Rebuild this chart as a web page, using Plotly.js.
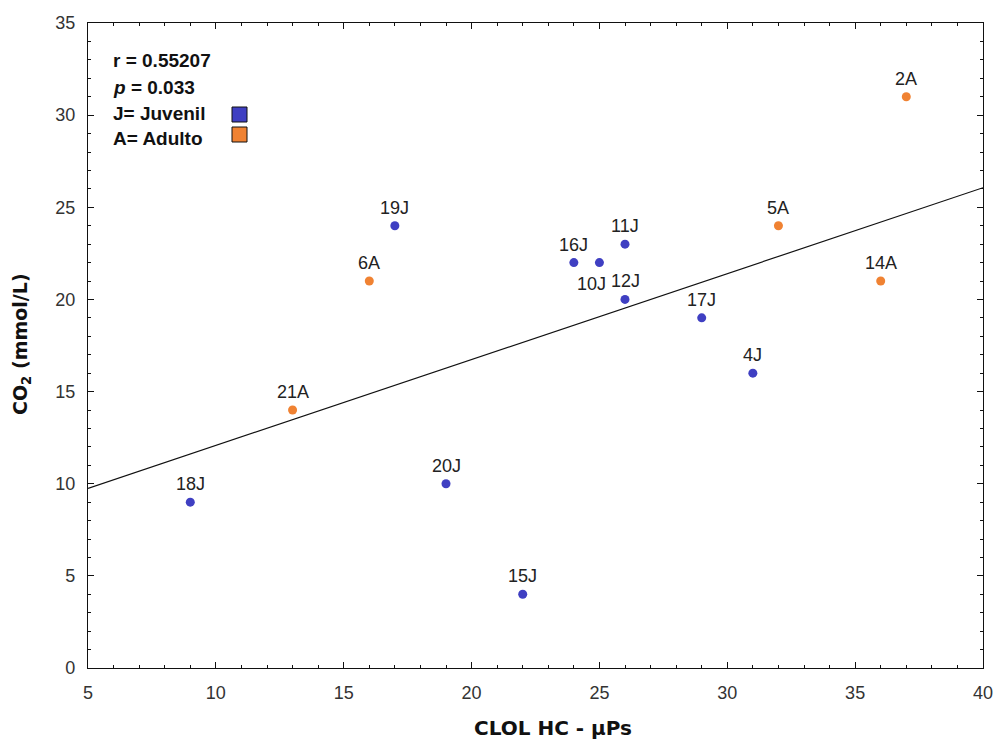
<!DOCTYPE html>
<html>
<head>
<meta charset="utf-8">
<script src="https://cdn.plot.ly/plotly-3.0.1.min.js"></script>
<style>html,body{margin:0;padding:0;background:#fff;}#chart{width:998px;height:742px;}</style>
</head>
<body>
<div id="chart"></div>
<script>
// Data
const juvLabels = ["18J","20J","15J","19J","16J","10J","11J","12J","17J","4J"];
const juvX = [9, 19, 22, 17, 24, 25, 26, 26, 29, 31];
const juvY = [9, 10, 4, 24, 22, 22, 23, 20, 19, 16];

const adLabels = ["21A","6A","5A","14A","2A"];
const adX = [13, 16, 32, 36, 37];
const adY = [14, 21, 24, 21, 31];

const xTickVals = [5,10,15,20,25,30,35,40];
const yTickVals = [0,5,10,15,20,25,30,35];
const statsText = ["r = 0.55207", "<i>p</i> = 0.033", "J= Juvenil", "A= Adulto"];
const xTitle = "CLOL HC - µPs";
const yTitle = "CO<sub>2</sub> (mmol/L)";
const belowLabels = ["10J"]; // labels placed below-left of their point

// regression line from all points
const allX = juvX.concat(adX), allY = juvY.concat(adY);
const n = allX.length;
const mx = allX.reduce((a,b)=>a+b,0)/n, my = allY.reduce((a,b)=>a+b,0)/n;
let sxy=0, sxx=0;
for (let i=0;i<n;i++){ sxy += (allX[i]-mx)*(allY[i]-my); sxx += (allX[i]-mx)**2; }
const slope = sxy/sxx, icpt = my - slope*mx;
const lineX = [5, 40];
const lineY = lineX.map(x => icpt + slope*x);

const blue = "#3f3fc2", orange = "#f08232";
const FONT = "Liberation Sans, Arial, sans-serif";
const BFONT = "DejaVu Sans, Liberation Sans, sans-serif";
const labelFont = {family:FONT, size:18, color:"#222"};

const traces = [
  {x: lineX, y: lineY, mode:"lines", line:{color:"#111", width:1.2}, hoverinfo:"skip", showlegend:false},
  {x: juvX, y: juvY, mode:"markers", marker:{color: blue, size:9}, showlegend:false, cliponaxis:false},
  {x: adX, y: adY, mode:"markers", marker:{color: orange, size:9}, showlegend:false, cliponaxis:false}
];

const W=998, H=742, L=88, R=15, T=23, B=74;
const pw = W-L-R, ph = H-T-B;
const px = v => (v-L)/pw;
const py = v => (H-B-v)/ph;

const annotations = [];
function addLabels(labels, xs, ys){
  labels.forEach((t,i)=>{
    const below = belowLabels.includes(t);
    annotations.push({
      xref:"x", yref:"y", x: xs[i], y: ys[i],
      xshift: below ? -8 : 0, yshift: below ? -21 : 18,
      xanchor:"center", yanchor:"middle", text: t, showarrow:false, font: labelFont
    });
  });
}
addLabels(juvLabels, juvX, juvY);
addLabels(adLabels, adX, adY);

const statY = [61, 87, 113, 138];
statsText.forEach((t,i)=>annotations.push({
  xref:"paper", yref:"paper", x: px(111), y: py(statY[i]), xanchor:"left", yanchor:"middle",
  text: "<b>"+t+"</b>", showarrow:false,
  font:{family:FONT, size:19, color:"#111"}
}));
annotations.push({
  xref:"paper", yref:"paper", x: px(553), y: py(728), xanchor:"center", yanchor:"middle",
  text:"<b>"+xTitle+"</b>", showarrow:false, font:{family:BFONT, size:20, color:"#111"}
});
annotations.push({
  xref:"paper", yref:"paper", x: px(22), y: py(344), xanchor:"center", yanchor:"middle",
  textangle:-90, text:"<b>"+yTitle+"</b>", showarrow:false, font:{family:BFONT, size:19, color:"#111"}
});

const shapes = [
  {type:"rect", xref:"paper", yref:"paper", x0:px(232), x1:px(247), y0:py(122), y1:py(107),
   fillcolor: blue, line:{color:"#111", width:1}},
  {type:"rect", xref:"paper", yref:"paper", x0:px(232), x1:px(247), y0:py(142), y1:py(127),
   fillcolor: orange, line:{color:"#111", width:1}}
];

const axisCommon = {
  showgrid:false, zeroline:false, showline:true, linecolor:"#111", linewidth:1.2,
  mirror:"allticks", ticks:"inside", ticklen:6, tickcolor:"#111", tickwidth:1,
  tickfont:{family:FONT, size:18, color:"#333"},
  minor:{ticks:"inside", ticklen:3, tickcolor:"#111", dtick:1, showgrid:false},
  ticklabelstandoff: 8
};

const layout = {
  width:W, height:H,
  margin:{l:L, r:R, t:T, b:B, pad:0},
  paper_bgcolor:"#fff", plot_bgcolor:"#fff",
  showlegend:false,
  xaxis: Object.assign({}, axisCommon, {
    range:[5,40], tickvals:xTickVals, ticktext:xTickVals.map(String)
  }),
  yaxis: Object.assign({}, axisCommon, {
    range:[0,35], tickvals:yTickVals, ticktext:yTickVals.map(String)
  }),
  annotations, shapes
};

Plotly.newPlot("chart", traces, layout, {displayModeBar:false, staticPlot:true});
</script>
</body>
</html>
